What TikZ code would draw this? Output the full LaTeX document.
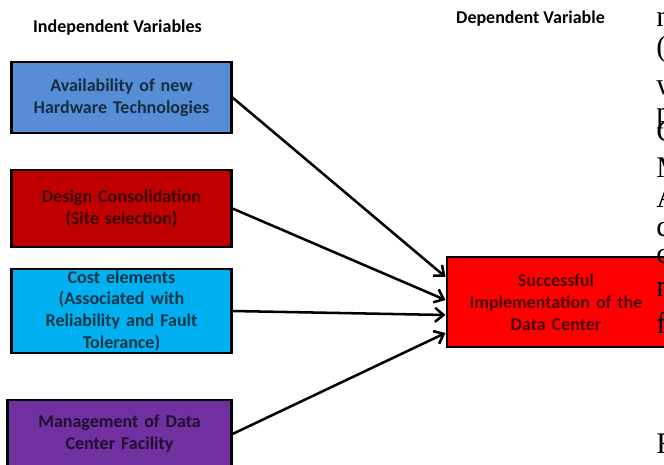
\documentclass[tikz,border=0pt]{standalone}
\usepackage{fontspec}
\setmainfont{Carlito}
\newfontfamily\pagefont{Liberation Serif}
\usetikzlibrary{arrows.meta}

\definecolor{hwblue}{RGB}{85,142,213}
\definecolor{designred}{RGB}{192,0,0}
\definecolor{costcyan}{RGB}{0,176,240}
\definecolor{mgmtpurple}{RGB}{112,48,160}
\definecolor{succred}{RGB}{255,0,0}

\tikzset{
  varbox/.style={shape=rectangle,draw=black,line width=2.1pt,fill=#1,text=black!70!#1,
    align=center,inner sep=0pt,text width=5.3cm,minimum width=5.475cm},
  heading/.style={inner sep=0pt,anchor=base},
  pageletter/.style={font=\pagefont\fontsize{21.3}{21.3}\selectfont,inner sep=0pt,anchor=base west}
}

\begin{document}
\begin{tikzpicture}[x=0.025cm,y=-0.025cm,->,>={Straight Barb[length=6pt,width=10pt]},line width=1.8pt,
    font=\bfseries\fontsize{12.8}{15.6}\selectfont]
                \useasboundingbox (0,0) rectangle (664,465);
                \node[heading](Indep)at(117.5, 33){Independent Variables};
                \node[heading](Dep)at(530.5, 24){Dependent Variable};
                \node[varbox=hwblue,minimum height=1.775cm](Hw)at(121.5, 97.5){Availability of new\\Hardware Technologies};
                \node[varbox=designred,minimum height=1.925cm](Design)at(121.5, 208.5){Design Consolidation\\(Site selection)};
                \node[varbox=costcyan,minimum height=2.1cm](Cost)at(121.5, 311){Cost elements\\(Associated with\\Reliability and Fault\\Tolerance)};
                \node[varbox=mgmtpurple,minimum height=1.7cm,minimum width=5.575cm](Mgmt)at(119.5, 434){Management of Data\\Center Facility};
                \node[varbox=succred,minimum height=2.25cm,minimum width=5.45cm](Success)at(556, 302){Successful\\Implementation of the\\Data Center};
                \path[](Hw.east) edge ([yshift=0.625cm]Success.west)
                (Design.east) edge ([yshift=0.05cm]Success.west)
                (Cost.east) edge ([yshift=-0.325cm]Success.west)
                (Mgmt.east) edge ([yshift=-0.775cm]Success.west);
                % cut-off letters of the page text at the right edge
                \node[pageletter](l1)at(655, 27){m};
                \node[pageletter](l2)at(655, 57){(};
                \node[pageletter](l3)at(655, 95){w};
                \node[pageletter](l4)at(655, 123){p};
                \node[pageletter](l5)at(655, 142){C};
                \node[pageletter](l6)at(655, 178){M};
                \node[pageletter](l7)at(655, 208){A};
                \node[pageletter](l8)at(655, 237){c};
                \node[pageletter](l9)at(655, 264){c};
                \node[pageletter](l10)at(655, 297){n};
                \node[pageletter](l11)at(655, 333){f};
                \node[pageletter](l12)at(655, 453){F};
            \end{tikzpicture}
\end{document}
